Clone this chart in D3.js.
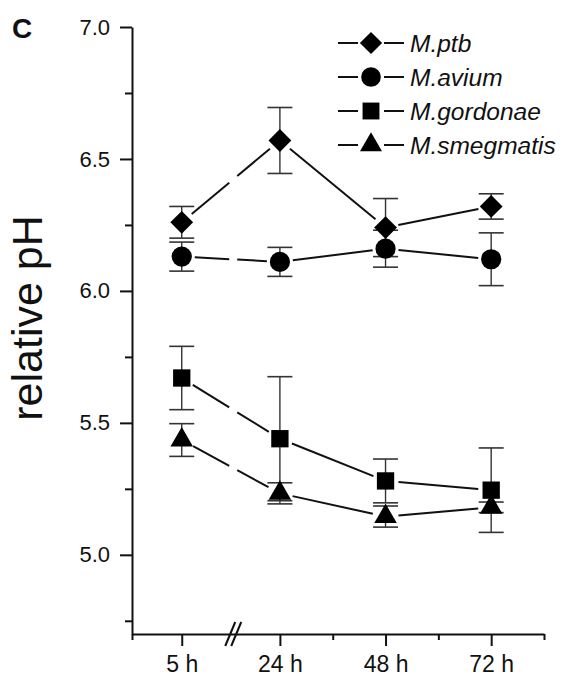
<!DOCTYPE html>
<html>
<head>
<meta charset="utf-8">
<script src="https://cdn.jsdelivr.net/npm/d3@7"></script>
<style>
  html, body { margin: 0; padding: 0; background: #fff; }
  svg { display: block; }
  text { font-family: "Liberation Sans", Arial, Helvetica, sans-serif; }
</style>
</head>
<body>
<svg id="chart" width="561" height="677"></svg>
<script>
// ---------- data ----------
const categories = ["5 h", "24 h", "48 h", "72 h"];
// position of each category on the broken time axis (hours; 5 h is placed left of the break)
const xPositions = [1.7, 24, 48, 72];
const xDomain = [-9.6, 84];
const xMinorTicks = [-9.6, 36, 60, 84];
const xBreak = 13.4;

const seriesNames = ["M.ptb", "M.avium", "M.gordonae", "M.smegmatis"];
const seriesSymbols = ["diamond", "circle", "square", "triangle"];

const ptbValues       = [6.26, 6.57, 6.24, 6.32];
const ptbErrors       = [0.06, 0.125, 0.11, 0.048];
const aviumValues     = [6.13, 6.11, 6.16, 6.12];
const aviumErrors     = [0.055, 0.055, 0.07, 0.10];
const gordonaeValues  = [5.67, 5.44, 5.28, 5.245];
const gordonaeErrors  = [0.12, 0.235, 0.083, 0.16];
const smegmatisValues = [5.435, 5.233, 5.145, 5.18];
const smegmatisErrors = [0.062, 0.04, 0.04, 0.02];

const yMajorTicks = [5.0, 5.5, 6.0, 6.5, 7.0];
const yMinorTicks = [4.75, 5.25, 5.75, 6.25, 6.75];
const yDomain = [4.7, 7.0];

const yTitle = "relative pH";
const panelLabel = "C";

// ---------- build ----------
const series = [
  { name: seriesNames[0], symbol: seriesSymbols[0], values: ptbValues, errors: ptbErrors },
  { name: seriesNames[1], symbol: seriesSymbols[1], values: aviumValues, errors: aviumErrors },
  { name: seriesNames[2], symbol: seriesSymbols[2], values: gordonaeValues, errors: gordonaeErrors },
  { name: seriesNames[3], symbol: seriesSymbols[3], values: smegmatisValues, errors: smegmatisErrors }
];

const svg = d3.select("#chart");
const x = d3.scaleLinear().domain(xDomain).range([132, 544]);
const y = d3.scaleLinear().domain(yDomain).range([634, 27]);

const ink = "#111";

function symbolPath(kind, scale = 1) {
  if (kind === "diamond") return d3.symbol(d3.symbolSquare, 260 * scale)();
  if (kind === "circle") return d3.symbol(d3.symbolCircle, 320 * scale)();
  if (kind === "square") return d3.symbol(d3.symbolSquare, 300 * scale)();
  return d3.symbol(d3.symbolTriangle, 220 * scale)();
}
function symbolRotate(kind) { return kind === "diamond" ? 45 : 0; }

// ---------- axes ----------
const yAxis = d3.axisLeft(y).tickValues(yMajorTicks).tickSize(12).tickSizeOuter(0)
  .tickPadding(10).tickFormat(d3.format(".1f"));
const gy = svg.append("g").attr("transform", `translate(${x(xDomain[0])},0)`).call(yAxis);
gy.select(".domain").attr("stroke", ink).attr("stroke-width", 2);
gy.selectAll(".tick line").attr("stroke", ink).attr("stroke-width", 2);
gy.selectAll(".tick text").attr("fill", "#111").style("font-size", "22px").style("font-family", "Liberation Sans, Arial, sans-serif");

const yMinor = d3.axisLeft(y).tickValues(yMinorTicks).tickSize(7).tickSizeOuter(0).tickFormat("");
const gym = svg.append("g").attr("transform", `translate(${x(xDomain[0])},0)`).call(yMinor);
gym.select(".domain").remove();
gym.selectAll(".tick line").attr("stroke", ink).attr("stroke-width", 2);

const xAxis = d3.axisBottom(x).tickValues(xPositions).tickSize(12).tickSizeOuter(0)
  .tickPadding(10).tickFormat((d, i) => categories[i]);
const gx = svg.append("g").attr("transform", `translate(0,${y(yDomain[0])})`).call(xAxis);
gx.select(".domain").attr("stroke", ink).attr("stroke-width", 2);
gx.selectAll(".tick line").attr("stroke", ink).attr("stroke-width", 2);
gx.selectAll(".tick text").attr("fill", "#111").style("font-size", "23px").style("font-family", "Liberation Sans, Arial, sans-serif");

const xMinor = d3.axisBottom(x).tickValues(xMinorTicks).tickSize(6).tickSizeOuter(0).tickFormat("");
const gxm = svg.append("g").attr("transform", `translate(0,${y(yDomain[0])})`).call(xMinor);
gxm.select(".domain").remove();
gxm.selectAll(".tick line").attr("stroke", ink).attr("stroke-width", 2);

// axis break "//"
const bx = x(xBreak), by = y(yDomain[0]);
[-3, 3].forEach(off => {
  svg.append("line")
    .attr("x1", bx + off - 5).attr("y1", by + 12)
    .attr("x2", bx + off + 5).attr("y2", by - 12)
    .attr("stroke", ink).attr("stroke-width", 2);
});

// ---------- error bars ----------
const eb = svg.append("g");
series.forEach(s => {
  s.values.forEach((v, i) => {
    const cx = x(xPositions[i]);
    const e = s.errors[i];
    eb.append("line").attr("x1", cx).attr("x2", cx).attr("y1", y(v + e)).attr("y2", y(v - e))
      .attr("stroke", "#333").attr("stroke-width", 1.4);
    [v + e, v - e].forEach(c => {
      eb.append("line").attr("x1", cx - 12.5).attr("x2", cx + 12.5).attr("y1", y(c)).attr("y2", y(c))
        .attr("stroke", "#333").attr("stroke-width", 1.6);
    });
  });
});

// ---------- connecting lines (gap near markers, broken at the axis break) ----------
const lg = svg.append("g");
const pad = 13;
series.forEach(s => {
  for (let i = 0; i < s.values.length - 1; i++) {
    const x1 = x(xPositions[i]), y1 = y(s.values[i]);
    const x2 = x(xPositions[i + 1]), y2 = y(s.values[i + 1]);
    const dx = x2 - x1, dy = y2 - y1, len = Math.hypot(dx, dy);
    const ux = dx / len, uy = dy / len;
    const ax = x1 + ux * pad, ay = y1 + uy * pad;
    const bxp = x2 - ux * pad, byp = y2 - uy * pad;
    if (xBreak > xPositions[i] && xBreak < xPositions[i + 1]) {
      const gx1 = x(xBreak) - 4, gx2 = x(xBreak) + 4;
      const yAt = px => y1 + (px - x1) * dy / dx;
      lg.append("line").attr("x1", ax).attr("y1", ay).attr("x2", gx1).attr("y2", yAt(gx1))
        .attr("stroke", ink).attr("stroke-width", 2);
      lg.append("line").attr("x1", gx2).attr("y1", yAt(gx2)).attr("x2", bxp).attr("y2", byp)
        .attr("stroke", ink).attr("stroke-width", 2);
    } else {
      lg.append("line").attr("x1", ax).attr("y1", ay).attr("x2", bxp).attr("y2", byp)
        .attr("stroke", ink).attr("stroke-width", 2);
    }
  }
});

// ---------- markers ----------
const mg = svg.append("g");
series.forEach(s => {
  s.values.forEach((v, i) => {
    mg.append("path").attr("d", symbolPath(s.symbol))
      .attr("transform", `translate(${x(xPositions[i])},${y(v)}) rotate(${symbolRotate(s.symbol)})`)
      .attr("fill", "#000");
  });
});

// ---------- legend ----------
const leg = svg.append("g");
series.forEach((s, i) => {
  const cy = 43 + i * 34;
  leg.append("line").attr("x1", 338).attr("x2", 358).attr("y1", cy).attr("y2", cy).attr("stroke", ink).attr("stroke-width", 2);
  leg.append("line").attr("x1", 384).attr("x2", 404).attr("y1", cy).attr("y2", cy).attr("stroke", ink).attr("stroke-width", 2);
  leg.append("path").attr("d", symbolPath(s.symbol, 0.95))
    .attr("transform", `translate(371,${cy}) rotate(${symbolRotate(s.symbol)})`).attr("fill", "#000");
  leg.append("text").attr("x", 410).attr("y", cy + 8.5).text(s.name)
    .style("font-size", "24.5px").style("font-style", "italic").attr("fill", "#111");
});

// ---------- titles ----------
svg.append("text").attr("transform", "translate(42,318) rotate(-90)")
  .attr("text-anchor", "middle").style("font-size", "43px").attr("fill", "#111").text(yTitle);
svg.append("text").attr("x", 12).attr("y", 38).style("font-size", "28px").style("font-weight", "bold")
  .attr("fill", "#111").text(panelLabel);
</script>
</body>
</html>
